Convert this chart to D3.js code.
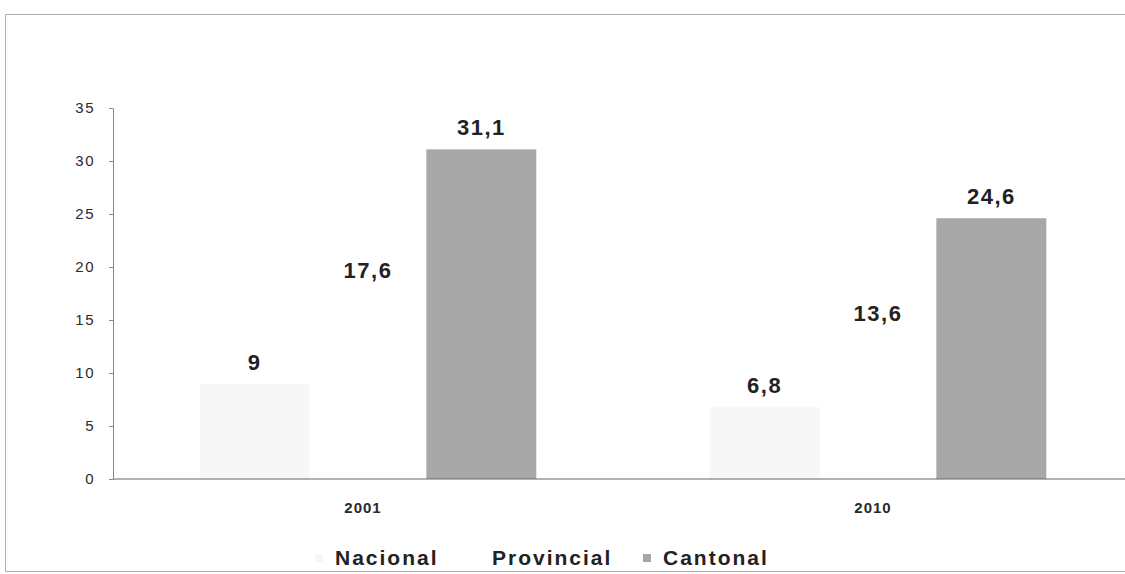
<!DOCTYPE html>
<html>
<head>
  <meta charset="UTF-8">
  <style>
    body { margin: 0; background: #fff; }
    svg { font-family: 'Liberation Sans', Arial, sans-serif; }
    .yaxis text { font-size: 15px; fill: #2a2a2a; letter-spacing: 1.5px; }
    .yaxis path, .yaxis line { stroke: #888; }
    .cat { font-size: 15px; font-weight: bold; fill: #2a2a2a; text-anchor: middle; letter-spacing: 1px; }
    .lbl { font-size: 22px; font-weight: bold; fill: #222; text-anchor: middle; letter-spacing: 1.5px; }
    .legend text { font-size: 21px; font-weight: bold; fill: #222; letter-spacing: 2px; }
  </style>
</head>
<body>
<script src="https://d3js.org/d3.v7.min.js"></script>
<script>
  let years = ["2001", "2010"];
  let series = ["Nacional", "Provincial", "Cantonal"];
  let nacional = [9, 6.8];
  let provincial = [17.6, 13.6];
  let cantonal = [31.1, 24.6];
  let yTicks = [0, 5, 10, 15, 20, 25, 30, 35];

  let values = [nacional, provincial, cantonal];
  let colours = ["#f7f7f7", "#ffffff", "#a8a8a8"];

  let width = 1125, height = 574;

  let svg = d3.select("body").append("svg")
    .attr("width", width)
    .attr("height", height);

  // outer frame of the chart
  svg.append("rect")
    .attr("x", 5.5).attr("y", 14.5)
    .attr("width", 1130).attr("height", 557)
    .attr("fill", "none")
    .attr("stroke", "#b0b0b0")
    .attr("stroke-width", 1);

  let x0 = d3.scaleBand()
    .domain(years)
    .range([113, 1133])
    .paddingInner(0.34)
    .paddingOuter(0.17);

  let x1 = d3.scaleBand()
    .domain(series)
    .range([0, x0.bandwidth()])
    .paddingInner(0.03);

  let y = d3.scaleLinear()
    .domain([0, 35])
    .range([479, 108]);

  // rows: one per year and series
  let rows = [];
  years.forEach((yr, i) => {
    series.forEach((s, j) => {
      rows.push({ year: yr, series: s, value: values[j][i], colour: colours[j] });
    });
  });

  svg.append("g")
    .selectAll("rect")
    .data(rows)
    .enter()
    .append("rect")
    .attr("x", d => x0(d.year) + x1(d.series))
    .attr("y", d => y(d.value))
    .attr("width", x1.bandwidth())
    .attr("height", d => y(0) - y(d.value))
    .attr("fill", d => d.colour);

  // y axis
  svg.append("g")
    .attr("class", "yaxis")
    .attr("transform", "translate(113,0)")
    .call(d3.axisLeft(y).tickValues(yTicks).tickSize(4).tickSizeOuter(0).tickPadding(14));

  // x axis line
  svg.append("line")
    .attr("x1", 113).attr("x2", 1125)
    .attr("y1", y(0)).attr("y2", y(0))
    .attr("stroke", "#666")
    .attr("stroke-width", 1.2);

  svg.append("g")
    .selectAll("text")
    .data(years)
    .enter()
    .append("text")
    .attr("class", "cat")
    .attr("x", d => x0(d) + x0.bandwidth() / 2 - 5)
    .attr("y", 513)
    .text(d => d);

  // data labels
  svg.append("g")
    .selectAll("text")
    .data(rows)
    .enter()
    .append("text")
    .attr("class", "lbl")
    .attr("x", d => x0(d.year) + x1(d.series) + x1.bandwidth() / 2)
    .attr("y", d => y(d.value) - 14)
    .text(d => String(d.value).replace(".", ","));

  // legend
  let legendX = [335, 492, 663];
  let legend = svg.append("g").attr("class", "legend")
    .selectAll("g")
    .data(series)
    .enter()
    .append("g")
    .attr("transform", (d, i) => "translate(" + legendX[i] + ",565)");

  legend.append("rect")
    .attr("x", -20).attr("y", -11)
    .attr("width", 8).attr("height", 8)
    .attr("fill", (d, i) => colours[i]);

  legend.append("text")
    .attr("x", 0).attr("y", 0)
    .text(d => d);
</script>
</body>
</html>
